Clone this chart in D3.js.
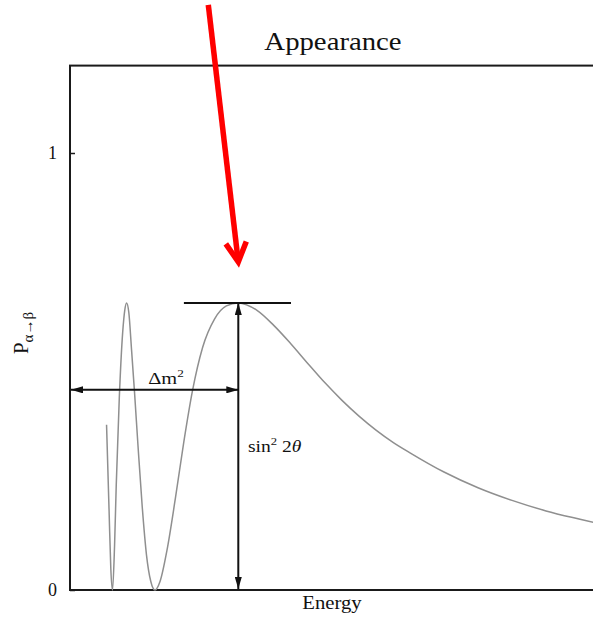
<!DOCTYPE html>
<html>
<head>
<meta charset="utf-8">
<script src="https://cdn.jsdelivr.net/npm/d3@7"></script>
<style>
body{margin:0;background:#fff;}
text{font-family:"Liberation Serif","Times New Roman","DejaVu Serif",serif;fill:#111;}
</style>
</head>
<body>
<div id="canvas"></div>
<script>
// energy (arbitrary units, 1 = first maximum) and appearance probability
var energy = [0.215, 0.230, 0.240, 0.250, 0.262, 0.272, 0.290, 0.310, 0.322, 0.333, 0.346, 0.362, 0.380, 0.400,
              0.425, 0.450, 0.475, 0.500, 0.530, 0.570, 0.620, 0.670, 0.720, 0.780, 0.850, 0.920, 0.990, 1.100,
              1.200, 1.300, 1.400, 1.500, 1.600, 1.700, 1.800, 1.900, 2.000, 2.200, 2.400, 2.600, 2.800, 3.000, 3.100];
var prob   = [0.378, 0.180, 0.050, 0.000, 0.100, 0.240, 0.440, 0.590, 0.640, 0.657, 0.635, 0.550, 0.450, 0.330,
              0.190, 0.080, 0.020, 0.000, 0.020, 0.090, 0.210, 0.340, 0.455, 0.555, 0.620, 0.650, 0.657, 0.640,
              0.605, 0.563, 0.518, 0.474, 0.434, 0.398, 0.366, 0.338, 0.314, 0.270, 0.234, 0.205, 0.181, 0.162, 0.153];
var yTicks = [0, 1];
var yTickLabels = ["0", "1"];
// annotations: first maximum (sin^2 2theta) and height of the delta m^2 arrow
var peakE = 0.99, peakP = 0.657;
var dm2Level = 0.458;
var capSpan = [0.67, 1.3];

var W = 593, H = 617;
var svg = d3.select("#canvas").append("svg")
  .attr("width", W).attr("height", H)
  .style("background", "#fff");

var x = d3.scaleLinear().domain([0, 3.5]).range([70, 665]);
var y = d3.scaleLinear().domain([0, 1.2]).range([590, 65.6]);

var defs = svg.append("defs");
defs.append("marker")
  .attr("id", "head")
  .attr("viewBox", "0 0 12 7")
  .attr("refX", 12).attr("refY", 3.5)
  .attr("markerWidth", 12).attr("markerHeight", 7)
  .attr("markerUnits", "userSpaceOnUse")
  .attr("orient", "auto-start-reverse")
  .append("path").attr("d", "M0,0 L12,3.5 L0,7 Z").attr("fill", "#111");

// frame (the right side runs off the picture)
svg.append("rect")
  .attr("x", x(0)).attr("y", y(1.2))
  .attr("width", x(3.5) - x(0)).attr("height", y(0) - y(1.2))
  .attr("fill", "none").attr("stroke", "#1a1a1a").attr("stroke-width", 2);

// y axis ticks
var yAxis = d3.axisLeft(y).tickValues(yTicks)
  .tickFormat(function(d, i) { return yTickLabels[i]; })
  .tickSizeInner(-5).tickSizeOuter(0).tickPadding(13);
var gy = svg.append("g").attr("transform", "translate(" + x(0) + ",0)").call(yAxis);
gy.attr("font-family", null);
gy.select(".domain").remove();
gy.selectAll("line").attr("stroke", "#1a1a1a").attr("stroke-width", 1.5);
gy.selectAll("text").attr("font-size", 18).attr("fill", "#222");

// curve
var pts = energy.map(function(e, i) { return {e: e, p: prob[i]}; });
var line = d3.line()
  .x(function(d) { return x(d.e); })
  .y(function(d) { return y(d.p); })
  .curve(d3.curveMonotoneX);
svg.append("path").datum(pts)
  .attr("d", line)
  .attr("fill", "none")
  .attr("stroke", "#8f8f8f")
  .attr("stroke-width", 1.5);

// annotations
svg.append("line")
  .attr("x1", x(capSpan[0])).attr("x2", x(capSpan[1]))
  .attr("y1", y(peakP)).attr("y2", y(peakP))
  .attr("stroke", "#111").attr("stroke-width", 2);
svg.append("line")
  .attr("x1", x(peakE)).attr("x2", x(peakE))
  .attr("y1", y(peakP)).attr("y2", y(0) - 1)
  .attr("stroke", "#111").attr("stroke-width", 2)
  .attr("marker-start", "url(#head)").attr("marker-end", "url(#head)");
svg.append("line")
  .attr("x1", x(0) + 1).attr("x2", x(peakE))
  .attr("y1", y(dm2Level)).attr("y2", y(dm2Level))
  .attr("stroke", "#111").attr("stroke-width", 2)
  .attr("marker-start", "url(#head)").attr("marker-end", "url(#head)");

function label(px, py, size, anchor, sx) {
  return svg.append("g")
    .attr("transform", "translate(" + px + "," + py + ") scale(" + sx + ",1)")
    .append("text")
    .attr("text-anchor", anchor)
    .attr("font-size", size);
}

var t = label(166, 384, 17, "middle", 1.2);
t.append("tspan").text("\u0394m");
t.append("tspan").attr("font-size", 11).attr("dy", -7).text("2");

var s = label(248, 452, 17, "start", 1.15);
s.append("tspan").text("sin");
s.append("tspan").attr("font-size", 11).attr("dy", -7).text("2");
s.append("tspan").attr("dy", 7).text(" 2");
s.append("tspan").attr("font-style", "italic").text("\u03b8");

label(333, 50, 25, "middle", 1.15).text("Appearance");
label(332, 609, 18, "middle", 1.15).text("Energy");

// y label
var yl = svg.append("g").attr("transform", "translate(28,333) rotate(-90)")
  .append("text").attr("text-anchor", "middle").attr("font-size", 21);
yl.append("tspan").text("P");
yl.append("tspan").attr("font-size", 15).attr("dy", 5).text("\u03b1\u2192\u03b2");

// red arrow pointing at the first maximum
var tipX = x(peakE), tipY = y(peakP) - 41;
var red = svg.append("g").attr("stroke", "#ff0000").attr("stroke-width", 5.5).attr("fill", "none");
red.append("line")
  .attr("x1", tipX - 30).attr("y1", tipY - 257)
  .attr("x2", tipX - 0.5).attr("y2", tipY - 4);
red.append("polyline")
  .attr("points", [[tipX - 12.5, tipY - 18], [tipX, tipY], [tipX + 8, tipY - 20.5]].join(" "))
  .attr("stroke-linejoin", "miter");
</script>
</body>
</html>
